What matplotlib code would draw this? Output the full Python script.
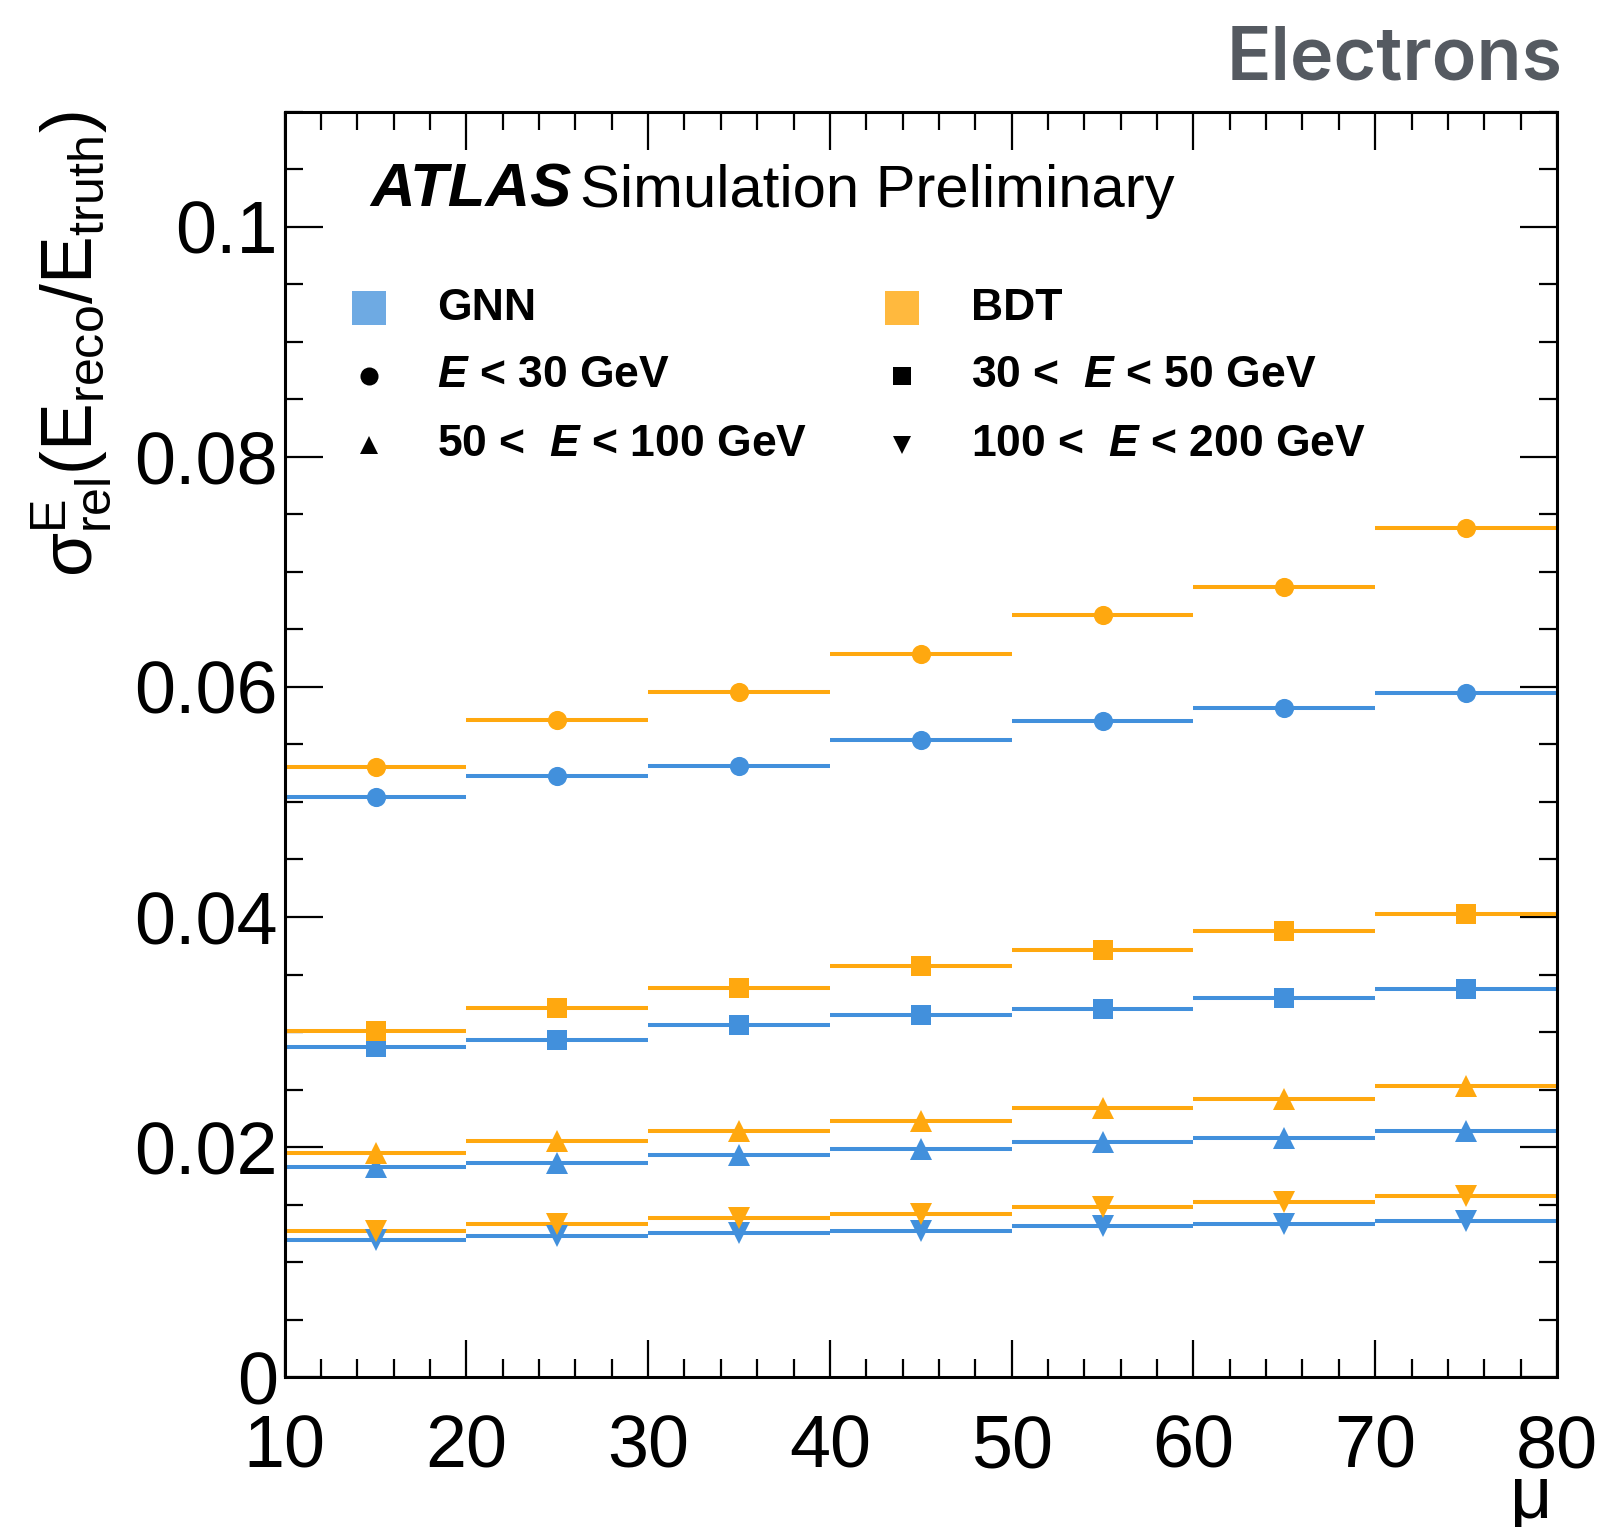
import matplotlib
matplotlib.use('Agg')
import matplotlib.pyplot as plt
from matplotlib.ticker import MultipleLocator, FixedLocator, FixedFormatter

# ---- data ----
mu_centers = [15, 25, 35, 45, 55, 65, 75]
mu_halfwidth = [5, 5, 5, 5, 5, 5, 5]

gnn_lt30 = [0.0504, 0.0523, 0.0531, 0.0554, 0.0570, 0.0582, 0.0595]
bdt_lt30 = [0.0530, 0.0571, 0.0596, 0.0629, 0.0663, 0.0687, 0.0738]
gnn_30_50 = [0.0287, 0.0293, 0.0306, 0.0315, 0.0320, 0.0330, 0.0337]
bdt_30_50 = [0.0301, 0.0321, 0.0338, 0.0357, 0.0371, 0.0388, 0.0403]
gnn_50_100 = [0.0183, 0.0186, 0.0193, 0.0198, 0.0204, 0.0208, 0.0214]
bdt_50_100 = [0.0195, 0.0205, 0.0214, 0.0223, 0.0234, 0.0242, 0.0253]
gnn_100_200 = [0.0119, 0.0123, 0.0125, 0.0127, 0.0131, 0.0133, 0.0136]
bdt_100_200 = [0.0127, 0.0133, 0.0138, 0.0142, 0.0148, 0.0152, 0.0157]

y_ticks = [0, 0.02, 0.04, 0.06, 0.08, 0.1]
y_ticklabels = ['0', '0.02', '0.04', '0.06', '0.08', '0.1']
x_ticks = [10, 20, 30, 40, 50, 60, 70, 80]
x_ticklabels = ['10', '20', '30', '40', '50', '60', '70', '80']

legend_methods = ['GNN', 'BDT']
legend_ranges = [r'$E$ < 30 GeV', r'30 <  $E$ < 50 GeV',
                 r'50 <  $E$ < 100 GeV', r'100 <  $E$ < 200 GeV']

# ---- style ----
FONT = 'Liberation Sans'
plt.rcParams['font.family'] = [FONT, 'DejaVu Sans']
plt.rcParams['mathtext.fontset'] = 'custom'
plt.rcParams['mathtext.rm'] = FONT
plt.rcParams['mathtext.it'] = FONT + ':bold:italic'
plt.rcParams['mathtext.bf'] = FONT + ':bold'

BLUE = '#4290dc'
ORANGE = '#ffa80f'
BLUE_PATCH = '#6eaae3'
ORANGE_PATCH = '#ffb93e'

fig = plt.figure(figsize=(15.99, 15.27), dpi=100)
ax = fig.add_axes([0.178, 0.0982, 0.7957, 0.8285])

series = [
    (gnn_lt30, BLUE, 'o'), (bdt_lt30, ORANGE, 'o'),
    (gnn_30_50, BLUE, 's'), (bdt_30_50, ORANGE, 's'),
    (gnn_50_100, BLUE, '^'), (bdt_50_100, ORANGE, '^'),
    (gnn_100_200, BLUE, 'v'), (bdt_100_200, ORANGE, 'v'),
]
for vals, col, mk in series:
    ms = 15.5 if mk in ('^', 'v') else 13.8
    ax.errorbar(mu_centers, vals, xerr=mu_halfwidth, fmt=mk, color=col,
                ecolor=col, elinewidth=2.9, markersize=ms, capsize=0,
                markeredgewidth=0)

ax.set_xlim(10, 80)
ax.set_ylim(0, 0.11)
ax.xaxis.set_major_locator(FixedLocator(x_ticks))
ax.xaxis.set_major_formatter(FixedFormatter(x_ticklabels))
ax.xaxis.set_minor_locator(MultipleLocator(2))
ax.yaxis.set_major_locator(FixedLocator(y_ticks))
ax.yaxis.set_major_formatter(FixedFormatter(y_ticklabels))
ax.yaxis.set_minor_locator(MultipleLocator(0.005))

ax.tick_params(which='both', direction='in', top=True, right=True,
               labelsize=53, width=1.6)
ax.tick_params(which='major', length=27)
ax.tick_params(which='minor', length=13)
ax.tick_params(axis='x', which='major', pad=26)
ax.tick_params(axis='y', which='major', pad=5)
for s in ax.spines.values():
    s.set_linewidth(2.2)

ax.set_ylabel(r'$\mathrm{\sigma^{E}_{rel}(E_{reco}/E_{truth})}$',
              fontsize=51.5, loc='top')
ax.yaxis.set_label_coords(-0.135, 1.0)

fig.text(0.9712, 0.0059, 'μ', fontsize=53, ha='right', va='baseline')

# ATLAS label
ax.text(0.067, 0.925, 'ATLAS', transform=ax.transAxes, fontsize=44.5,
        fontweight='bold', fontstyle='italic', va='baseline', ha='left')
ax.text(0.2322, 0.925, 'Simulation Preliminary', transform=ax.transAxes,
        fontsize=43, va='baseline', ha='left')

# legend (manual)
row_y = [0.845, 0.7915, 0.737]
col_mk = [0.0664, 0.485]
col_tx = [0.1195, 0.5395]
ax.plot([col_mk[0]], [row_y[0]], marker='s', markersize=24, color=BLUE_PATCH,
        transform=ax.transAxes, linestyle='none', markeredgewidth=0, clip_on=False)
ax.plot([col_mk[1]], [row_y[0]], marker='s', markersize=24, color=ORANGE_PATCH,
        transform=ax.transAxes, linestyle='none', markeredgewidth=0, clip_on=False)
for i, name in enumerate(legend_methods):
    ax.text(col_tx[i], row_y[0], name, transform=ax.transAxes, fontsize=32,
            fontweight='bold', va='center', ha='left')
leg_markers = ['o', 's', '^', 'v']
for k, lab in enumerate(legend_ranges):
    r = 1 + k // 2
    c = k % 2
    ax.plot([col_mk[c]], [row_y[r]], marker=leg_markers[k], markersize=13,
            color='black', transform=ax.transAxes, linestyle='none',
            markeredgewidth=0, clip_on=False)
    ax.text(col_tx[c], row_y[r], lab, transform=ax.transAxes, fontsize=32,
            fontweight='bold', va='center', ha='left')

fig.text(0.977, 0.948, 'Electrons', fontsize=53, fontweight='semibold',
         family=['Inter', 'DejaVu Sans'], color='#555a61', ha='right', va='baseline')

fig.savefig('out.png', dpi=100)
